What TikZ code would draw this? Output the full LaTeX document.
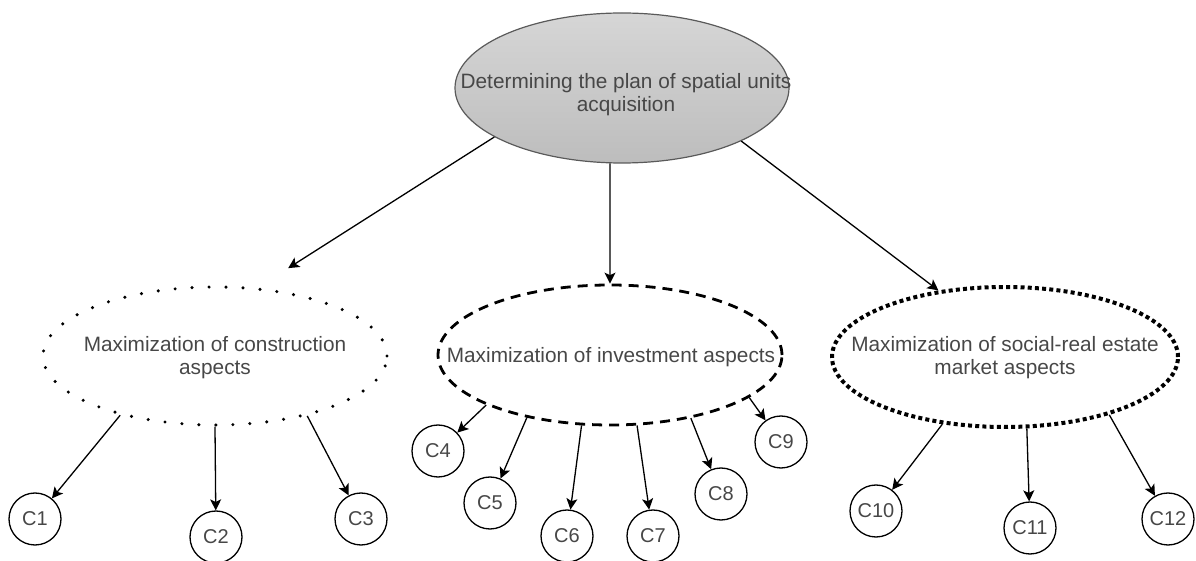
\documentclass[tikz,border=0pt]{standalone}
\usepackage{fontspec}
\setmainfont{Liberation Sans}
\usetikzlibrary{shapes.geometric,arrows.meta}
\definecolor{txtgray}{HTML}{474747}
\definecolor{topg}{HTML}{D6D6D6}
\definecolor{botg}{HTML}{BDBDBD}
\definecolor{bordg}{HTML}{5A5A5A}
\begin{document}
\begin{tikzpicture}[x=0.5pt,y=-0.5pt,
  lbl/.style={font=\fontsize{10.4pt}{11.6pt}\selectfont, text=txtgray, align=center, inner sep=0pt},
  ellbase/.style={ellipse, inner sep=0pt, minimum width=172pt, minimum height=69pt},
  dotsty/.style={ellbase, draw, line width=1.7pt, dash pattern=on 0pt off 8.5pt, line cap=round},
  dashsty/.style={ellbase, draw, line width=1.4pt, dash pattern=on 5pt off 3.5pt},
  densesty/.style={ellbase, draw, line width=2pt, dash pattern=on 2pt off 1.6pt},
  topell/.style={ellipse, inner sep=0pt, minimum width=167pt, minimum height=75pt, draw=bordg, line width=0.6pt, top color=topg, bottom color=botg},
  cnode/.style={circle, draw, line width=0.65pt, minimum size=26pt, inner sep=0pt, font=\fontsize{10pt}{11pt}\selectfont, text=txtgray},
  arr/.style={-{Stealth[length=5.5pt,width=5.5pt,inset=1.3pt]}, line width=0.65pt}]
\useasboundingbox (0,0) rectangle (1196,561);
% top
\node[topell] (top) at (622,88) {};
\node[lbl] (toplbl) at (626,95) {Determining the plan of spatial units\\acquisition};
% second level
\node[dotsty] (lft) at (215,356) {};
\node[lbl] (lftlbl) at (215,358) {Maximization of construction\\aspects};
\node[dashsty, minimum height=70pt] (mdl) at (610,355) {};
\node[lbl] (mdllbl) at (611,357) {Maximization of investment aspects};
\node[densesty, minimum width=173pt, minimum height=70pt] (rgt) at (1005,357) {};
\node[lbl] (rgtlbl) at (1005,358) {Maximization of social-real estate\\market aspects};
% leaves
\node[cnode] (c1) at (35,519) {C1};
\node[cnode] (c2) at (216,537) {C2};
\node[cnode] (c3) at (361,519) {C3};
\node[cnode] (c4) at (438,451) {C4};
\node[cnode] (c5) at (490,503) {C5};
\node[cnode] (c6) at (567,536) {C6};
\node[cnode] (c7) at (653,536) {C7};
\node[cnode] (c8) at (721,494) {C8};
\node[cnode] (c9) at (781,442) {C9};
\node[cnode] (c10) at (876,511) {C10};
\node[cnode] (c11) at (1030,528) {C11};
\node[cnode] (c12) at (1168,519) {C12};
% top arrows
\draw[arr, shorten >=18pt] (top.201) -- (lft.58);
\draw[arr] (top.261) -- (mdl.north);
\draw[arr] (top.336) -- (rgt.135);
% left group
\draw[arr] (lft.212) -- (c1);
\draw[arr] (lft.south) -- (c2);
\draw[arr] (lft.327) -- (c3);
% middle group
\draw[arr] (mdl.202) -- (c4);
\draw[arr] (mdl.217) -- (c5);
\draw[arr] (mdl.248) -- (c6);
\draw[arr] (mdl.291) -- (c7);
\draw[arr] (mdl.322) -- (c8);
\draw[arr] (mdl.343) -- (c9);
% right group
\draw[arr] (rgt.227) -- (c10);
\draw[arr] (rgt.287) -- (c11);
\draw[arr] (rgt.331) -- (c12);
\end{tikzpicture}
\end{document}
